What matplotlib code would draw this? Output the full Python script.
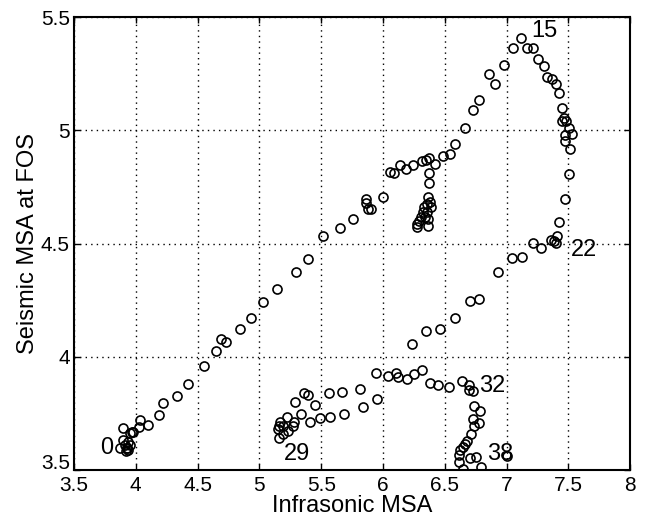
import matplotlib
matplotlib.use("Agg")
import matplotlib.pyplot as plt
import matplotlib.transforms as mtransforms

plt.rcParams['font.family'] = ['Liberation Sans', 'DejaVu Sans']

infrasonic = [
    3.872, 3.926, 3.91, 3.953, 3.894, 3.94, 3.953, 3.967, 3.896, 3.975, 3.93, 3.92, 3.94,
    4.023, 4.037, 4.099, 4.19, 4.218, 4.333, 4.422, 4.549, 4.649, 4.689, 4.727, 4.846,
    4.935, 5.029, 5.142, 5.299, 5.393, 5.515, 5.652, 5.754, 5.862, 5.86, 5.876, 5.90,
    6.0, 6.054, 6.089, 6.14, 6.189, 6.243, 6.313, 6.345, 6.375, 6.421, 6.485, 6.54,
    6.585, 6.661, 6.731, 6.779, 6.855, 6.909, 6.979, 7.052, 7.119, 7.165, 7.211, 7.256,
    7.30, 7.324, 7.365, 7.397, 7.421, 7.451, 7.448, 7.462, 7.478, 7.502, 7.531, 7.475,
    7.472, 7.513, 7.507, 7.47, 7.424, 7.41, 7.383, 7.40, 7.357, 7.278, 7.211, 7.122,
    7.041, 6.930, 6.779, 6.704, 6.583, 6.458, 6.348, 6.235,
    6.37, 6.37, 6.364, 6.38, 6.354, 6.386, 6.332, 6.321, 6.354, 6.305, 6.342, 6.289,
    6.364, 6.278, 6.273, 6.364,
    5.949, 5.946, 6.038, 6.105, 6.121, 6.197, 6.251, 6.316, 6.378, 6.445, 6.532, 6.637,
    6.693, 6.698, 6.726, 6.739, 6.782, 6.726, 6.779, 6.734, 6.712, 6.68, 6.661, 6.645,
    6.625, 6.617, 6.701, 6.755, 6.612, 6.647, 6.79, 7.006,
    5.811, 5.668, 5.566, 5.358, 5.393, 5.285, 5.447, 5.84, 5.687, 5.571, 5.49, 5.41,
    5.334, 5.28, 5.221, 5.164, 5.156, 5.148, 5.188, 5.234, 5.274, 5.193, 5.161,
]
seismic = [
    3.596, 3.596, 3.61, 3.61, 3.632, 3.625, 3.663, 3.669, 3.685, 3.67, 3.60, 3.585, 3.59,
    3.69, 3.72, 3.699, 3.743, 3.797, 3.828, 3.881, 3.958, 4.027, 4.078, 4.068, 4.124,
    4.17, 4.243, 4.30, 4.373, 4.432, 4.533, 4.571, 4.607, 4.697, 4.68, 4.655, 4.655,
    4.705, 4.816, 4.813, 4.847, 4.829, 4.847, 4.867, 4.87, 4.877, 4.851, 4.885, 4.898,
    4.938, 5.011, 5.091, 5.135, 5.248, 5.206, 5.29, 5.363, 5.406, 5.363, 5.363, 5.316,
    5.285, 5.235, 5.226, 5.206, 5.167, 5.097, 5.042, 5.054, 5.04, 5.01, 4.983, 4.98,
    4.951, 4.916, 4.807, 4.697, 4.596, 4.532, 4.511, 4.504, 4.515, 4.479, 4.501, 4.442,
    4.436, 4.373, 4.255, 4.246, 4.174, 4.124, 4.115, 4.056,
    4.81, 4.766, 4.707, 4.685, 4.677, 4.663, 4.663, 4.64, 4.64, 4.618, 4.618, 4.601,
    4.611, 4.586, 4.572, 4.577,
    3.815, 3.931, 3.915, 3.927, 3.912, 3.903, 3.925, 3.942, 3.884, 3.877, 3.868, 3.893,
    3.878, 3.856, 3.85, 3.784, 3.76, 3.725, 3.707, 3.696, 3.662, 3.631, 3.615, 3.603,
    3.588, 3.565, 3.556, 3.559, 3.535, 3.507, 3.512, 3.562,
    3.858, 3.844, 3.841, 3.839, 3.832, 3.80, 3.79, 3.777, 3.75, 3.734, 3.731, 3.712,
    3.746, 3.715, 3.733, 3.712, 3.694, 3.68, 3.697, 3.673, 3.694, 3.662, 3.641,
]

labels = ["0", "15", "22", "29", "32", "38"]
label_x = [3.82, 7.2, 7.52, 5.2, 6.78, 6.84]
label_y = [3.6, 5.44, 4.47, 3.57, 3.87, 3.57]
label_ha = ["right", "left", "left", "left", "left", "left"]

x_ticks = [3.5, 4, 4.5, 5, 5.5, 6, 6.5, 7, 7.5, 8]
y_ticks = [3.5, 4, 4.5, 5, 5.5]

fig = plt.figure(figsize=(6.49, 5.19), dpi=100)
ax = fig.add_axes([0.114, 0.094, 0.857, 0.873])

ax.plot(infrasonic, seismic, linestyle='none', marker='o', markersize=6.5,
        markerfacecolor='none', markeredgecolor='black', markeredgewidth=1.2)

for t, lx, ly, ha in zip(labels, label_x, label_y, label_ha):
    ax.text(lx, ly, t, fontsize=17, ha=ha, va='center', color='black')

ax.set_xlim(3.5, 8)
ax.set_ylim(3.5, 5.5)
ax.set_xticks(x_ticks)
ax.set_xticklabels([f"{v:g}" for v in x_ticks])
ax.set_yticks(y_ticks)
ax.set_yticklabels([f"{v:g}" for v in y_ticks])
ax.grid(True, linestyle=(0, (1, 3)), color='black', linewidth=1.0)
ax.tick_params(direction='in', top=True, right=True, labelsize=15, length=4, width=1)
ax.tick_params(axis='x', pad=4)
ax.tick_params(axis='y', pad=3)
for s in ax.spines.values():
    s.set_linewidth(1.5)
ax.set_xlabel("Infrasonic MSA", fontsize=17, labelpad=0)
ax.set_ylabel("Seismic MSA at FOS", fontsize=17, labelpad=1)

# lift the lowest y tick label a little, as in the reference
shift = mtransforms.ScaledTranslation(0, 6 / 72, fig.dpi_scale_trans)
lowest = ax.get_yticklabels()[0]
lowest.set_transform(lowest.get_transform() + shift)

fig.savefig("out.png", dpi=100)
